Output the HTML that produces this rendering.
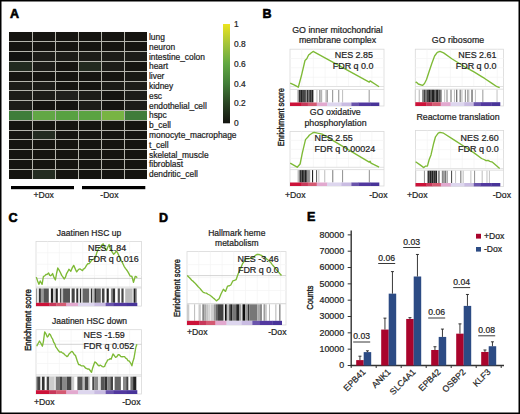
<!DOCTYPE html>
<html><head><meta charset="utf-8"><style>
html,body{margin:0;padding:0;background:#fff;}
#fig{position:relative;width:520px;height:414px;overflow:hidden;background:#fff;}
svg{position:absolute;left:0;top:0;}
text{font-family:"Liberation Sans",sans-serif;stroke:#1e1e1e;stroke-width:0.22px;}
</style></head><body><div id="fig">
<svg width="520" height="414" viewBox="0 0 520 414">
<rect x="0.75" y="0.75" width="518.5" height="412.5" fill="none" stroke="#000" stroke-width="1.5"/>
<text x="10" y="18" font-size="12.5" text-anchor="start" font-weight="bold" fill="#000" style="stroke:#000;stroke-width:0.6px">A</text>
<text x="262.5" y="17.8" font-size="12.5" text-anchor="start" font-weight="bold" fill="#000" style="stroke:#000;stroke-width:0.6px">B</text>
<text x="8.5" y="221.8" font-size="12.5" text-anchor="start" font-weight="bold" fill="#000" style="stroke:#000;stroke-width:0.6px">C</text>
<text x="159" y="221.6" font-size="12.5" text-anchor="start" font-weight="bold" fill="#000" style="stroke:#000;stroke-width:0.6px">D</text>
<text x="307" y="221.3" font-size="12.5" text-anchor="start" font-weight="bold" fill="#000" style="stroke:#000;stroke-width:0.6px">E</text>
<rect x="9" y="32" width="138" height="147.0" fill="#b4b4ac"/>
<g shape-rendering="crispEdges">
<rect x="9.00" y="32.00" width="22.50" height="9.30" fill="#151410"/>
<rect x="32.50" y="32.00" width="22.00" height="9.30" fill="#151410"/>
<rect x="55.50" y="32.00" width="22.00" height="9.30" fill="#151410"/>
<rect x="78.50" y="32.00" width="22.00" height="9.30" fill="#151410"/>
<rect x="101.50" y="32.00" width="22.00" height="9.30" fill="#151410"/>
<rect x="124.50" y="32.00" width="22.50" height="9.30" fill="#151410"/>
<rect x="9.00" y="42.30" width="22.50" height="8.80" fill="#151410"/>
<rect x="32.50" y="42.30" width="22.00" height="8.80" fill="#151410"/>
<rect x="55.50" y="42.30" width="22.00" height="8.80" fill="#151410"/>
<rect x="78.50" y="42.30" width="22.00" height="8.80" fill="#151410"/>
<rect x="101.50" y="42.30" width="22.00" height="8.80" fill="#151410"/>
<rect x="124.50" y="42.30" width="22.50" height="8.80" fill="#151410"/>
<rect x="9.00" y="52.10" width="22.50" height="8.80" fill="#121210"/>
<rect x="32.50" y="52.10" width="22.00" height="8.80" fill="#1c1c18"/>
<rect x="55.50" y="52.10" width="22.00" height="8.80" fill="#1c1c18"/>
<rect x="78.50" y="52.10" width="22.00" height="8.80" fill="#1c1c18"/>
<rect x="101.50" y="52.10" width="22.00" height="8.80" fill="#1c1c18"/>
<rect x="124.50" y="52.10" width="22.50" height="8.80" fill="#1c1c18"/>
<rect x="9.00" y="61.90" width="22.50" height="8.80" fill="#222a1f"/>
<rect x="32.50" y="61.90" width="22.00" height="8.80" fill="#1c1c18"/>
<rect x="55.50" y="61.90" width="22.00" height="8.80" fill="#151410"/>
<rect x="78.50" y="61.90" width="22.00" height="8.80" fill="#222a1f"/>
<rect x="101.50" y="61.90" width="22.00" height="8.80" fill="#1c1c18"/>
<rect x="124.50" y="61.90" width="22.50" height="8.80" fill="#151410"/>
<rect x="9.00" y="71.70" width="22.50" height="8.80" fill="#151410"/>
<rect x="32.50" y="71.70" width="22.00" height="8.80" fill="#151410"/>
<rect x="55.50" y="71.70" width="22.00" height="8.80" fill="#151410"/>
<rect x="78.50" y="71.70" width="22.00" height="8.80" fill="#151410"/>
<rect x="101.50" y="71.70" width="22.00" height="8.80" fill="#151410"/>
<rect x="124.50" y="71.70" width="22.50" height="8.80" fill="#181814"/>
<rect x="9.00" y="81.50" width="22.50" height="8.80" fill="#1c1c18"/>
<rect x="32.50" y="81.50" width="22.00" height="8.80" fill="#1c1c18"/>
<rect x="55.50" y="81.50" width="22.00" height="8.80" fill="#151410"/>
<rect x="78.50" y="81.50" width="22.00" height="8.80" fill="#151410"/>
<rect x="101.50" y="81.50" width="22.00" height="8.80" fill="#1a1a16"/>
<rect x="124.50" y="81.50" width="22.50" height="8.80" fill="#1c1c18"/>
<rect x="9.00" y="91.30" width="22.50" height="8.80" fill="#1c1c18"/>
<rect x="32.50" y="91.30" width="22.00" height="8.80" fill="#1c1c18"/>
<rect x="55.50" y="91.30" width="22.00" height="8.80" fill="#1f1f1c"/>
<rect x="78.50" y="91.30" width="22.00" height="8.80" fill="#1c1c18"/>
<rect x="101.50" y="91.30" width="22.00" height="8.80" fill="#151410"/>
<rect x="124.50" y="91.30" width="22.50" height="8.80" fill="#1c1c18"/>
<rect x="9.00" y="101.10" width="22.50" height="8.80" fill="#1c1c18"/>
<rect x="32.50" y="101.10" width="22.00" height="8.80" fill="#151410"/>
<rect x="55.50" y="101.10" width="22.00" height="8.80" fill="#151410"/>
<rect x="78.50" y="101.10" width="22.00" height="8.80" fill="#1c1c18"/>
<rect x="101.50" y="101.10" width="22.00" height="8.80" fill="#151410"/>
<rect x="124.50" y="101.10" width="22.50" height="8.80" fill="#1c1c18"/>
<rect x="9.00" y="110.90" width="22.50" height="8.80" fill="#3f7d3a"/>
<rect x="32.50" y="110.90" width="22.00" height="8.80" fill="#62a745"/>
<rect x="55.50" y="110.90" width="22.00" height="8.80" fill="#58a141"/>
<rect x="78.50" y="110.90" width="22.00" height="8.80" fill="#5aa342"/>
<rect x="101.50" y="110.90" width="22.00" height="8.80" fill="#78b443"/>
<rect x="124.50" y="110.90" width="22.50" height="8.80" fill="#407c3a"/>
<rect x="9.00" y="120.70" width="22.50" height="8.80" fill="#151410"/>
<rect x="32.50" y="120.70" width="22.00" height="8.80" fill="#151410"/>
<rect x="55.50" y="120.70" width="22.00" height="8.80" fill="#151410"/>
<rect x="78.50" y="120.70" width="22.00" height="8.80" fill="#151410"/>
<rect x="101.50" y="120.70" width="22.00" height="8.80" fill="#151410"/>
<rect x="124.50" y="120.70" width="22.50" height="8.80" fill="#151410"/>
<rect x="9.00" y="130.50" width="22.50" height="8.80" fill="#151410"/>
<rect x="32.50" y="130.50" width="22.00" height="8.80" fill="#242c21"/>
<rect x="55.50" y="130.50" width="22.00" height="8.80" fill="#151410"/>
<rect x="78.50" y="130.50" width="22.00" height="8.80" fill="#151410"/>
<rect x="101.50" y="130.50" width="22.00" height="8.80" fill="#151410"/>
<rect x="124.50" y="130.50" width="22.50" height="8.80" fill="#151410"/>
<rect x="9.00" y="140.30" width="22.50" height="8.80" fill="#151410"/>
<rect x="32.50" y="140.30" width="22.00" height="8.80" fill="#151410"/>
<rect x="55.50" y="140.30" width="22.00" height="8.80" fill="#151410"/>
<rect x="78.50" y="140.30" width="22.00" height="8.80" fill="#151410"/>
<rect x="101.50" y="140.30" width="22.00" height="8.80" fill="#151410"/>
<rect x="124.50" y="140.30" width="22.50" height="8.80" fill="#151410"/>
<rect x="9.00" y="150.10" width="22.50" height="8.80" fill="#151410"/>
<rect x="32.50" y="150.10" width="22.00" height="8.80" fill="#151410"/>
<rect x="55.50" y="150.10" width="22.00" height="8.80" fill="#151410"/>
<rect x="78.50" y="150.10" width="22.00" height="8.80" fill="#151410"/>
<rect x="101.50" y="150.10" width="22.00" height="8.80" fill="#151410"/>
<rect x="124.50" y="150.10" width="22.50" height="8.80" fill="#151410"/>
<rect x="9.00" y="159.90" width="22.50" height="8.80" fill="#151410"/>
<rect x="32.50" y="159.90" width="22.00" height="8.80" fill="#151410"/>
<rect x="55.50" y="159.90" width="22.00" height="8.80" fill="#151410"/>
<rect x="78.50" y="159.90" width="22.00" height="8.80" fill="#151410"/>
<rect x="101.50" y="159.90" width="22.00" height="8.80" fill="#151410"/>
<rect x="124.50" y="159.90" width="22.50" height="8.80" fill="#151410"/>
<rect x="9.00" y="169.70" width="22.50" height="9.30" fill="#151410"/>
<rect x="32.50" y="169.70" width="22.00" height="9.30" fill="#242c21"/>
<rect x="55.50" y="169.70" width="22.00" height="9.30" fill="#151410"/>
<rect x="78.50" y="169.70" width="22.00" height="9.30" fill="#151410"/>
<rect x="101.50" y="169.70" width="22.00" height="9.30" fill="#151410"/>
<rect x="124.50" y="169.70" width="22.50" height="9.30" fill="#151410"/>
</g>
<text x="149" y="40.0" font-size="8.4" text-anchor="start" font-weight="normal" fill="#1e1e1e" >lung</text>
<text x="149" y="49.8" font-size="8.4" text-anchor="start" font-weight="normal" fill="#1e1e1e" >neuron</text>
<text x="149" y="59.6" font-size="8.4" text-anchor="start" font-weight="normal" fill="#1e1e1e" >intestine_colon</text>
<text x="149" y="69.4" font-size="8.4" text-anchor="start" font-weight="normal" fill="#1e1e1e" >heart</text>
<text x="149" y="79.2" font-size="8.4" text-anchor="start" font-weight="normal" fill="#1e1e1e" >liver</text>
<text x="149" y="89.0" font-size="8.4" text-anchor="start" font-weight="normal" fill="#1e1e1e" >kidney</text>
<text x="149" y="98.80000000000001" font-size="8.4" text-anchor="start" font-weight="normal" fill="#1e1e1e" >esc</text>
<text x="149" y="108.60000000000001" font-size="8.4" text-anchor="start" font-weight="normal" fill="#1e1e1e" >endothelial_cell</text>
<text x="149" y="118.4" font-size="8.4" text-anchor="start" font-weight="normal" fill="#1e1e1e" >hspc</text>
<text x="149" y="128.2" font-size="8.4" text-anchor="start" font-weight="normal" fill="#1e1e1e" >b_cell</text>
<text x="149" y="138.0" font-size="8.4" text-anchor="start" font-weight="normal" fill="#1e1e1e" >monocyte_macrophage</text>
<text x="149" y="147.8" font-size="8.4" text-anchor="start" font-weight="normal" fill="#1e1e1e" >t_cell</text>
<text x="149" y="157.60000000000002" font-size="8.4" text-anchor="start" font-weight="normal" fill="#1e1e1e" >skeletal_muscle</text>
<text x="149" y="167.4" font-size="8.4" text-anchor="start" font-weight="normal" fill="#1e1e1e" >fibroblast</text>
<text x="149" y="177.20000000000002" font-size="8.4" text-anchor="start" font-weight="normal" fill="#1e1e1e" >dendritic_cell</text>
<rect x="11" y="186" width="63" height="3.2" fill="#000"/>
<rect x="82" y="186" width="63.3" height="3.2" fill="#000"/>
<text x="33.5" y="197.5" font-size="8.6" text-anchor="start" font-weight="normal" fill="#1e1e1e" >+Dox</text>
<text x="100.3" y="197.5" font-size="8.6" text-anchor="start" font-weight="normal" fill="#1e1e1e" >-Dox</text>
<defs><linearGradient id="cb" x1="0" y1="1" x2="0" y2="0"><stop offset="0" stop-color="#141410"/><stop offset="0.2" stop-color="#2a4424"/><stop offset="0.4" stop-color="#427e38"/><stop offset="0.6" stop-color="#62a842"/><stop offset="0.8" stop-color="#a4c43a"/><stop offset="1" stop-color="#ece41e"/></linearGradient><filter id="hb" x="-5%" y="0" width="110%" height="100%"><feGaussianBlur stdDeviation="0.45 0"/></filter></defs>
<rect x="223" y="24" width="7" height="99.3" fill="url(#cb)"/>
<text x="234" y="126.3" font-size="8.4" text-anchor="start" font-weight="normal" fill="#1e1e1e" >0</text>
<text x="234" y="106.44" font-size="8.4" text-anchor="start" font-weight="normal" fill="#1e1e1e" >0.2</text>
<text x="234" y="86.58" font-size="8.4" text-anchor="start" font-weight="normal" fill="#1e1e1e" >0.4</text>
<text x="234" y="66.72" font-size="8.4" text-anchor="start" font-weight="normal" fill="#1e1e1e" >0.6</text>
<text x="234" y="46.86" font-size="8.4" text-anchor="start" font-weight="normal" fill="#1e1e1e" >0.8</text>
<text x="234" y="27.0" font-size="8.4" text-anchor="start" font-weight="normal" fill="#1e1e1e" >1</text>
<rect x="290" y="49.2" width="94" height="56.8" fill="#fff" stroke="#d9d9d9" stroke-width="0.8"/>
<line x1="301.7" y1="49.2" x2="301.7" y2="86.5" stroke="#f4f4f4" stroke-width="0.7"/>
<line x1="313.4" y1="49.2" x2="313.4" y2="86.5" stroke="#f4f4f4" stroke-width="0.7"/>
<line x1="325.1" y1="49.2" x2="325.1" y2="86.5" stroke="#f4f4f4" stroke-width="0.7"/>
<line x1="336.8" y1="49.2" x2="336.8" y2="86.5" stroke="#f4f4f4" stroke-width="0.7"/>
<line x1="348.5" y1="49.2" x2="348.5" y2="86.5" stroke="#f4f4f4" stroke-width="0.7"/>
<line x1="360.2" y1="49.2" x2="360.2" y2="86.5" stroke="#f4f4f4" stroke-width="0.7"/>
<line x1="371.9" y1="49.2" x2="371.9" y2="86.5" stroke="#f4f4f4" stroke-width="0.7"/>
<line x1="290" y1="58.5" x2="384" y2="58.5" stroke="#f4f4f4" stroke-width="0.7"/>
<line x1="290" y1="67.8" x2="384" y2="67.8" stroke="#f4f4f4" stroke-width="0.7"/>
<line x1="290" y1="77.2" x2="384" y2="77.2" stroke="#f4f4f4" stroke-width="0.7"/>
<line x1="290" y1="86.5" x2="384" y2="86.5" stroke="#d9d9d9" stroke-width="0.8"/>
<line x1="290" y1="89.5" x2="384" y2="89.5" stroke="#d9d9d9" stroke-width="0.8"/>
<g filter="url(#hb)">
<rect x="297.20" y="90.0" width="1.2" height="12.5" fill="#bbb"/>
<rect x="298.60" y="90.0" width="2.2" height="12.5" fill="#333"/>
<rect x="300.80" y="90.0" width="2" height="12.5" fill="#222"/>
<rect x="302.80" y="90.0" width="1.4" height="12.5" fill="#444"/>
<rect x="304.20" y="90.0" width="1.6" height="12.5" fill="#222"/>
<rect x="305.80" y="90.0" width="1.0" height="12.5" fill="#999"/>
<rect x="306.80" y="90.0" width="1.6" height="12.5" fill="#333"/>
<rect x="308.40" y="90.0" width="1.6" height="12.5" fill="#555"/>
<rect x="310.00" y="90.0" width="1.6" height="12.5" fill="#333"/>
<rect x="311.60" y="90.0" width="1.8" height="12.5" fill="#222"/>
<rect x="316.30" y="90.0" width="1.2" height="12.5" fill="#c8c8c8"/>
<rect x="319.10" y="90.0" width="1.1" height="12.5" fill="#999"/>
<rect x="320.20" y="90.0" width="2.0" height="12.5" fill="#b4b4b4"/>
<rect x="325.40" y="90.0" width="1.2" height="12.5" fill="#bbb"/>
<rect x="326.60" y="90.0" width="1.3" height="12.5" fill="#999"/>
<rect x="332.00" y="90.0" width="1.2" height="12.5" fill="#a0a0a0"/>
<rect x="338.10" y="90.0" width="1.2" height="12.5" fill="#a0a0a0"/>
<rect x="342.00" y="90.0" width="1.1" height="12.5" fill="#c4c4c4"/>
<rect x="368.60" y="90.0" width="1.2" height="12.5" fill="#aaa"/>
</g>
<rect x="290.00" y="102.5" width="11.87" height="3.5" fill="#cc1239"/>
<rect x="301.57" y="102.5" width="6.53" height="3.5" fill="#c8385a"/>
<rect x="307.80" y="102.5" width="9.20" height="3.5" fill="#d45a72"/>
<rect x="316.70" y="102.5" width="10.71" height="3.5" fill="#e2a9cf"/>
<rect x="327.11" y="102.5" width="14.54" height="3.5" fill="#ddd6ee"/>
<rect x="341.35" y="102.5" width="10.36" height="3.5" fill="#c9bce2"/>
<rect x="351.41" y="102.5" width="7.42" height="3.5" fill="#6a54ac"/>
<rect x="358.53" y="102.5" width="11.87" height="3.5" fill="#52389f"/>
<rect x="370.10" y="102.5" width="9.20" height="3.5" fill="#483499"/>
<polyline points="290.20,83.10 294.10,84.90 298.30,87.20 301.40,75.80 305.00,60.50 306.80,58.70 308.60,55.00 310.40,53.60 313.10,51.40 369.20,82.20 370.10,80.90 379.10,86.70" fill="none" stroke="#7eba36" stroke-width="1.35" stroke-linejoin="round"/>
<text x="337.5" y="33.2" font-size="8.8" text-anchor="middle" font-weight="normal" fill="#1e1e1e" >GO inner mitochondrial</text>
<text x="337.5" y="43" font-size="8.8" text-anchor="middle" font-weight="normal" fill="#1e1e1e" >membrane complex</text>
<text x="373" y="58.3" font-size="8.95" text-anchor="end" font-weight="normal" fill="#1e1e1e" >NES 2.85</text>
<text x="373.5" y="68.8" font-size="8.95" text-anchor="end" font-weight="normal" fill="#1e1e1e" >FDR q 0.0</text>
<rect x="415.3" y="49.2" width="88.30000000000001" height="56.8" fill="#fff" stroke="#d9d9d9" stroke-width="0.8"/>
<line x1="427.0" y1="49.2" x2="427.0" y2="86.5" stroke="#f4f4f4" stroke-width="0.7"/>
<line x1="438.7" y1="49.2" x2="438.7" y2="86.5" stroke="#f4f4f4" stroke-width="0.7"/>
<line x1="450.4" y1="49.2" x2="450.4" y2="86.5" stroke="#f4f4f4" stroke-width="0.7"/>
<line x1="462.1" y1="49.2" x2="462.1" y2="86.5" stroke="#f4f4f4" stroke-width="0.7"/>
<line x1="473.8" y1="49.2" x2="473.8" y2="86.5" stroke="#f4f4f4" stroke-width="0.7"/>
<line x1="485.5" y1="49.2" x2="485.5" y2="86.5" stroke="#f4f4f4" stroke-width="0.7"/>
<line x1="497.2" y1="49.2" x2="497.2" y2="86.5" stroke="#f4f4f4" stroke-width="0.7"/>
<line x1="415.3" y1="58.5" x2="503.6" y2="58.5" stroke="#f4f4f4" stroke-width="0.7"/>
<line x1="415.3" y1="67.8" x2="503.6" y2="67.8" stroke="#f4f4f4" stroke-width="0.7"/>
<line x1="415.3" y1="77.2" x2="503.6" y2="77.2" stroke="#f4f4f4" stroke-width="0.7"/>
<line x1="415.3" y1="86.5" x2="503.6" y2="86.5" stroke="#d9d9d9" stroke-width="0.8"/>
<line x1="415.3" y1="89.2" x2="503.6" y2="89.2" stroke="#d9d9d9" stroke-width="0.8"/>
<g filter="url(#hb)">
<rect x="414.80" y="89.7" width="1" height="12.5" fill="#ccc"/>
<rect x="418.70" y="89.7" width="1.1" height="12.5" fill="#bbb"/>
<rect x="422.20" y="89.7" width="1.5" height="12.5" fill="#777"/>
<rect x="423.70" y="89.7" width="1.5" height="12.5" fill="#444"/>
<rect x="425.20" y="89.7" width="1.5" height="12.5" fill="#666"/>
<rect x="426.70" y="89.7" width="1.5" height="12.5" fill="#444"/>
<rect x="428.20" y="89.7" width="2" height="12.5" fill="#222"/>
<rect x="430.20" y="89.7" width="1.5" height="12.5" fill="#333"/>
<rect x="431.70" y="89.7" width="2.3" height="12.5" fill="#222"/>
<rect x="434.00" y="89.7" width="1.5" height="12.5" fill="#555"/>
<rect x="435.50" y="89.7" width="1.5" height="12.5" fill="#333"/>
<rect x="437.00" y="89.7" width="1.5" height="12.5" fill="#222"/>
<rect x="438.50" y="89.7" width="1.5" height="12.5" fill="#555"/>
<rect x="440.00" y="89.7" width="1.7" height="12.5" fill="#777"/>
<rect x="444.10" y="89.7" width="1.1" height="12.5" fill="#c8c8c8"/>
<rect x="446.40" y="89.7" width="1.2" height="12.5" fill="#999"/>
<rect x="450.40" y="89.7" width="1.2" height="12.5" fill="#888"/>
<rect x="453.90" y="89.7" width="1.1" height="12.5" fill="#c0c0c0"/>
<rect x="456.10" y="89.7" width="1.2" height="12.5" fill="#666"/>
<rect x="459.10" y="89.7" width="1.1" height="12.5" fill="#c0c0c0"/>
<rect x="461.40" y="89.7" width="1.1" height="12.5" fill="#bbb"/>
<rect x="464.80" y="89.7" width="1.2" height="12.5" fill="#999"/>
<rect x="468.30" y="89.7" width="1.1" height="12.5" fill="#c0c0c0"/>
<rect x="471.20" y="89.7" width="1.2" height="12.5" fill="#999"/>
<rect x="460.00" y="89.7" width="1" height="12.5" fill="#999"/>
<rect x="467.20" y="89.7" width="1.1" height="12.5" fill="#999"/>
<rect x="471.60" y="89.7" width="1.2" height="12.5" fill="#888"/>
<rect x="474.90" y="89.7" width="1.1" height="12.5" fill="#c8c8c8"/>
<rect x="482.00" y="89.7" width="1.5" height="12.5" fill="#bbb"/>
<rect x="496.50" y="89.7" width="1.1" height="12.5" fill="#c8c8c8"/>
</g>
<rect x="415.30" y="102.2" width="11.31" height="3.799999999999997" fill="#cc1239"/>
<rect x="426.31" y="102.2" width="6.23" height="3.799999999999997" fill="#c8385a"/>
<rect x="432.24" y="102.2" width="8.77" height="3.799999999999997" fill="#d45a72"/>
<rect x="440.71" y="102.2" width="10.21" height="3.799999999999997" fill="#e2a9cf"/>
<rect x="450.62" y="102.2" width="13.85" height="3.799999999999997" fill="#ddd6ee"/>
<rect x="464.17" y="102.2" width="9.87" height="3.799999999999997" fill="#c9bce2"/>
<rect x="473.74" y="102.2" width="7.08" height="3.799999999999997" fill="#6a54ac"/>
<rect x="480.52" y="102.2" width="11.31" height="3.799999999999997" fill="#52389f"/>
<rect x="491.53" y="102.2" width="8.77" height="3.799999999999997" fill="#483499"/>
<polyline points="415.50,82.60 416.50,82.20 418.30,84.00 422.50,85.40 424.50,83.50 426.50,79.50 429.20,71.30 431.90,63.20 434.60,56.00 437.30,52.30 440.00,51.40 443.60,52.90 451.80,58.70 466.20,67.70 474.40,72.20 482.50,77.10 484.30,78.20 491.60,83.10 497.00,86.70 499.70,87.60" fill="none" stroke="#7eba36" stroke-width="1.35" stroke-linejoin="round"/>
<text x="458" y="43.1" font-size="8.8" text-anchor="middle" font-weight="normal" fill="#1e1e1e" >GO ribosome</text>
<text x="496.5" y="58.1" font-size="8.95" text-anchor="end" font-weight="normal" fill="#1e1e1e" >NES 2.61</text>
<text x="496.5" y="68.5" font-size="8.95" text-anchor="end" font-weight="normal" fill="#1e1e1e" >FDR q 0.0</text>
<rect x="290" y="131.5" width="94" height="54.5" fill="#fff" stroke="#d9d9d9" stroke-width="0.8"/>
<line x1="301.7" y1="131.5" x2="301.7" y2="167.3" stroke="#f4f4f4" stroke-width="0.7"/>
<line x1="313.4" y1="131.5" x2="313.4" y2="167.3" stroke="#f4f4f4" stroke-width="0.7"/>
<line x1="325.1" y1="131.5" x2="325.1" y2="167.3" stroke="#f4f4f4" stroke-width="0.7"/>
<line x1="336.8" y1="131.5" x2="336.8" y2="167.3" stroke="#f4f4f4" stroke-width="0.7"/>
<line x1="348.5" y1="131.5" x2="348.5" y2="167.3" stroke="#f4f4f4" stroke-width="0.7"/>
<line x1="360.2" y1="131.5" x2="360.2" y2="167.3" stroke="#f4f4f4" stroke-width="0.7"/>
<line x1="371.9" y1="131.5" x2="371.9" y2="167.3" stroke="#f4f4f4" stroke-width="0.7"/>
<line x1="290" y1="140.4" x2="384" y2="140.4" stroke="#f4f4f4" stroke-width="0.7"/>
<line x1="290" y1="149.4" x2="384" y2="149.4" stroke="#f4f4f4" stroke-width="0.7"/>
<line x1="290" y1="158.4" x2="384" y2="158.4" stroke="#f4f4f4" stroke-width="0.7"/>
<line x1="290" y1="167.3" x2="384" y2="167.3" stroke="#d9d9d9" stroke-width="0.8"/>
<line x1="290" y1="169.6" x2="384" y2="169.6" stroke="#d9d9d9" stroke-width="0.8"/>
<g filter="url(#hb)">
<rect x="297.40" y="170.1" width="1.2" height="12.400000000000006" fill="#ccc"/>
<rect x="298.60" y="170.1" width="1.4" height="12.400000000000006" fill="#888"/>
<rect x="300.00" y="170.1" width="1.6" height="12.400000000000006" fill="#333"/>
<rect x="301.60" y="170.1" width="1.4" height="12.400000000000006" fill="#222"/>
<rect x="303.00" y="170.1" width="1.4" height="12.400000000000006" fill="#444"/>
<rect x="304.40" y="170.1" width="1.6" height="12.400000000000006" fill="#222"/>
<rect x="306.00" y="170.1" width="1.4" height="12.400000000000006" fill="#555"/>
<rect x="307.40" y="170.1" width="1.4" height="12.400000000000006" fill="#777"/>
<rect x="308.80" y="170.1" width="1.4" height="12.400000000000006" fill="#999"/>
<rect x="312.00" y="170.1" width="1.1" height="12.400000000000006" fill="#222"/>
<rect x="316.00" y="170.1" width="1.1" height="12.400000000000006" fill="#666"/>
<rect x="318.30" y="170.1" width="1.1" height="12.400000000000006" fill="#c8c8c8"/>
<rect x="324.10" y="170.1" width="1.2" height="12.400000000000006" fill="#c8c8c8"/>
<rect x="332.20" y="170.1" width="1.1" height="12.400000000000006" fill="#888"/>
<rect x="342.00" y="170.1" width="1.1" height="12.400000000000006" fill="#999"/>
<rect x="368.80" y="170.1" width="1.1" height="12.400000000000006" fill="#999"/>
</g>
<rect x="290.00" y="182.5" width="11.87" height="3.5" fill="#cc1239"/>
<rect x="301.57" y="182.5" width="6.53" height="3.5" fill="#c8385a"/>
<rect x="307.80" y="182.5" width="9.20" height="3.5" fill="#d45a72"/>
<rect x="316.70" y="182.5" width="10.71" height="3.5" fill="#e2a9cf"/>
<rect x="327.11" y="182.5" width="14.54" height="3.5" fill="#ddd6ee"/>
<rect x="341.35" y="182.5" width="10.36" height="3.5" fill="#c9bce2"/>
<rect x="351.41" y="182.5" width="7.42" height="3.5" fill="#6a54ac"/>
<rect x="358.53" y="182.5" width="11.87" height="3.5" fill="#52389f"/>
<rect x="370.10" y="182.5" width="9.20" height="3.5" fill="#483499"/>
<polyline points="290.20,163.10 294.10,165.40 297.20,167.20 300.10,164.00 302.30,153.10 305.50,139.60 307.70,137.20 309.50,135.00 312.20,133.20 314.00,132.30 317.60,133.20 322.20,134.10 369.20,162.20 370.10,161.30 371.00,163.10 379.10,167.20" fill="none" stroke="#7eba36" stroke-width="1.35" stroke-linejoin="round"/>
<text x="335.3" y="115.3" font-size="8.8" text-anchor="middle" font-weight="normal" fill="#1e1e1e" >GO oxidative</text>
<text x="335.5" y="125.6" font-size="8.8" text-anchor="middle" font-weight="normal" fill="#1e1e1e" >phosphorylation</text>
<text x="314.5" y="141" font-size="8.95" text-anchor="start" font-weight="normal" fill="#1e1e1e" >NES 2.55</text>
<text x="314.5" y="151.5" font-size="8.95" text-anchor="start" font-weight="normal" fill="#1e1e1e" >FDR q 0.00024</text>
<text x="285" y="198.3" font-size="8.7" text-anchor="start" font-weight="normal" fill="#1e1e1e" >+Dox</text>
<text x="387.5" y="198.3" font-size="8.7" text-anchor="end" font-weight="normal" fill="#1e1e1e" >-Dox</text>
<rect x="415.5" y="130.5" width="88.10000000000002" height="55.900000000000006" fill="#fff" stroke="#d9d9d9" stroke-width="0.8"/>
<line x1="427.2" y1="130.5" x2="427.2" y2="168.6" stroke="#f4f4f4" stroke-width="0.7"/>
<line x1="438.9" y1="130.5" x2="438.9" y2="168.6" stroke="#f4f4f4" stroke-width="0.7"/>
<line x1="450.6" y1="130.5" x2="450.6" y2="168.6" stroke="#f4f4f4" stroke-width="0.7"/>
<line x1="462.3" y1="130.5" x2="462.3" y2="168.6" stroke="#f4f4f4" stroke-width="0.7"/>
<line x1="474.0" y1="130.5" x2="474.0" y2="168.6" stroke="#f4f4f4" stroke-width="0.7"/>
<line x1="485.7" y1="130.5" x2="485.7" y2="168.6" stroke="#f4f4f4" stroke-width="0.7"/>
<line x1="497.4" y1="130.5" x2="497.4" y2="168.6" stroke="#f4f4f4" stroke-width="0.7"/>
<line x1="415.5" y1="140.0" x2="503.6" y2="140.0" stroke="#f4f4f4" stroke-width="0.7"/>
<line x1="415.5" y1="149.6" x2="503.6" y2="149.6" stroke="#f4f4f4" stroke-width="0.7"/>
<line x1="415.5" y1="159.1" x2="503.6" y2="159.1" stroke="#f4f4f4" stroke-width="0.7"/>
<line x1="415.5" y1="168.6" x2="503.6" y2="168.6" stroke="#d9d9d9" stroke-width="0.8"/>
<line x1="415.5" y1="170.2" x2="503.6" y2="170.2" stroke="#d9d9d9" stroke-width="0.8"/>
<g filter="url(#hb)">
<rect x="415.20" y="170.7" width="1" height="12.300000000000011" fill="#ccc"/>
<rect x="423.90" y="170.7" width="1.1" height="12.300000000000011" fill="#999"/>
<rect x="427.50" y="170.7" width="2" height="12.300000000000011" fill="#333"/>
<rect x="429.50" y="170.7" width="2" height="12.300000000000011" fill="#222"/>
<rect x="431.50" y="170.7" width="2" height="12.300000000000011" fill="#222"/>
<rect x="433.50" y="170.7" width="1.8" height="12.300000000000011" fill="#333"/>
<rect x="435.30" y="170.7" width="1.8" height="12.300000000000011" fill="#222"/>
<rect x="438.40" y="170.7" width="1.1" height="12.300000000000011" fill="#444"/>
<rect x="441.80" y="170.7" width="1.3" height="12.300000000000011" fill="#888"/>
<rect x="443.40" y="170.7" width="1.2" height="12.300000000000011" fill="#666"/>
<rect x="445.00" y="170.7" width="1.2" height="12.300000000000011" fill="#777"/>
<rect x="446.60" y="170.7" width="1.2" height="12.300000000000011" fill="#999"/>
<rect x="451.00" y="170.7" width="1.1" height="12.300000000000011" fill="#555"/>
<rect x="455.00" y="170.7" width="1.1" height="12.300000000000011" fill="#c8c8c8"/>
<rect x="460.20" y="170.7" width="1.2" height="12.300000000000011" fill="#888"/>
<rect x="462.60" y="170.7" width="1.1" height="12.300000000000011" fill="#c0c0c0"/>
<rect x="470.30" y="170.7" width="1.1" height="12.300000000000011" fill="#c8c8c8"/>
<rect x="474.00" y="170.7" width="1.1" height="12.300000000000011" fill="#999"/>
<rect x="481.60" y="170.7" width="1.2" height="12.300000000000011" fill="#c8c8c8"/>
<rect x="486.40" y="170.7" width="1.1" height="12.300000000000011" fill="#c8c8c8"/>
<rect x="488.90" y="170.7" width="1.1" height="12.300000000000011" fill="#c8c8c8"/>
</g>
<rect x="415.50" y="183" width="11.29" height="3.4000000000000057" fill="#cc1239"/>
<rect x="426.49" y="183" width="6.22" height="3.4000000000000057" fill="#c8385a"/>
<rect x="432.40" y="183" width="8.75" height="3.4000000000000057" fill="#d45a72"/>
<rect x="440.85" y="183" width="10.19" height="3.4000000000000057" fill="#e2a9cf"/>
<rect x="450.74" y="183" width="13.82" height="3.4000000000000057" fill="#ddd6ee"/>
<rect x="464.26" y="183" width="9.85" height="3.4000000000000057" fill="#c9bce2"/>
<rect x="473.81" y="183" width="7.06" height="3.4000000000000057" fill="#6a54ac"/>
<rect x="480.56" y="183" width="11.29" height="3.4000000000000057" fill="#52389f"/>
<rect x="491.55" y="183" width="8.75" height="3.4000000000000057" fill="#483499"/>
<polyline points="415.60,161.80 420.10,164.90 423.80,167.60 425.60,166.10 427.40,166.10 429.20,159.50 431.00,154.90 433.70,143.20 435.50,136.80 438.20,133.20 440.00,132.30 443.60,133.20 453.60,139.60 466.20,147.70 474.40,153.10 481.60,158.50 484.00,159.50 486.10,160.70 488.00,160.40 489.80,161.30 492.50,162.20 499.70,168.50" fill="none" stroke="#7eba36" stroke-width="1.35" stroke-linejoin="round"/>
<text x="458" y="119.8" font-size="8.8" text-anchor="middle" font-weight="normal" fill="#1e1e1e" >Reactome translation</text>
<text x="498.8" y="141" font-size="8.95" text-anchor="end" font-weight="normal" fill="#1e1e1e" >NES 2.60</text>
<text x="498.8" y="151.9" font-size="8.95" text-anchor="end" font-weight="normal" fill="#1e1e1e" >FDR q 0.0</text>
<text x="407" y="197.7" font-size="8.7" text-anchor="start" font-weight="normal" fill="#1e1e1e" >+Dox</text>
<text x="511" y="197.7" font-size="8.7" text-anchor="end" font-weight="normal" fill="#1e1e1e" >-Dox</text>
<text transform="translate(284.4,117.2) rotate(-90) scale(0.82,1)" x="0" y="0" font-size="9.1" style="stroke-width:0.4px" text-anchor="middle" fill="#1e1e1e">Enrichment score</text>
<rect x="36" y="241.4" width="105.5" height="64.70000000000002" fill="#fff" stroke="#d9d9d9" stroke-width="0.8"/>
<line x1="47.7" y1="241.4" x2="47.7" y2="287" stroke="#f4f4f4" stroke-width="0.7"/>
<line x1="59.4" y1="241.4" x2="59.4" y2="287" stroke="#f4f4f4" stroke-width="0.7"/>
<line x1="71.1" y1="241.4" x2="71.1" y2="287" stroke="#f4f4f4" stroke-width="0.7"/>
<line x1="82.8" y1="241.4" x2="82.8" y2="287" stroke="#f4f4f4" stroke-width="0.7"/>
<line x1="94.5" y1="241.4" x2="94.5" y2="287" stroke="#f4f4f4" stroke-width="0.7"/>
<line x1="106.2" y1="241.4" x2="106.2" y2="287" stroke="#f4f4f4" stroke-width="0.7"/>
<line x1="117.9" y1="241.4" x2="117.9" y2="287" stroke="#f4f4f4" stroke-width="0.7"/>
<line x1="129.6" y1="241.4" x2="129.6" y2="287" stroke="#f4f4f4" stroke-width="0.7"/>
<line x1="36" y1="252.8" x2="141.5" y2="252.8" stroke="#f4f4f4" stroke-width="0.7"/>
<line x1="36" y1="264.2" x2="141.5" y2="264.2" stroke="#f4f4f4" stroke-width="0.7"/>
<line x1="36" y1="275.6" x2="141.5" y2="275.6" stroke="#f4f4f4" stroke-width="0.7"/>
<line x1="36" y1="287" x2="141.5" y2="287" stroke="#d9d9d9" stroke-width="0.8"/>
<line x1="36" y1="288" x2="141.5" y2="288" stroke="#d9d9d9" stroke-width="0.8"/>
<line x1="36" y1="278.4" x2="141.5" y2="278.4" stroke="#c8c8c8" stroke-width="0.8"/>
<g filter="url(#hb)">
<rect x="36.10" y="288.5" width="1.1000000000000014" height="14.300000000000011" fill="#888"/>
<rect x="38.80" y="288.5" width="2.1000000000000014" height="14.300000000000011" fill="#333"/>
<rect x="40.90" y="288.5" width="2.6000000000000014" height="14.300000000000011" fill="#999"/>
<rect x="43.50" y="288.5" width="5.299999999999997" height="14.300000000000011" fill="#555"/>
<rect x="50.90" y="288.5" width="2.1000000000000014" height="14.300000000000011" fill="#222"/>
<rect x="53.00" y="288.5" width="2.700000000000003" height="14.300000000000011" fill="#ccc"/>
<rect x="55.70" y="288.5" width="2.0999999999999943" height="14.300000000000011" fill="#222"/>
<rect x="59.90" y="288.5" width="1.6000000000000014" height="14.300000000000011" fill="#444"/>
<rect x="61.50" y="288.5" width="1.6000000000000014" height="14.300000000000011" fill="#bbb"/>
<rect x="63.10" y="288.5" width="6.899999999999999" height="14.300000000000011" fill="#555"/>
<rect x="71.60" y="288.5" width="3.1000000000000085" height="14.300000000000011" fill="#444"/>
<rect x="76.30" y="288.5" width="2.1000000000000085" height="14.300000000000011" fill="#333"/>
<rect x="78.40" y="288.5" width="1.5999999999999943" height="14.300000000000011" fill="#e0e0e0"/>
<rect x="80.00" y="288.5" width="1.0999999999999943" height="14.300000000000011" fill="#222"/>
<rect x="81.10" y="288.5" width="1.6000000000000085" height="14.300000000000011" fill="#ccc"/>
<rect x="82.70" y="288.5" width="6.5" height="14.300000000000011" fill="#666"/>
<rect x="90.80" y="288.5" width="1.5" height="14.300000000000011" fill="#333"/>
<rect x="92.30" y="288.5" width="2.200000000000003" height="14.300000000000011" fill="#bbb"/>
<rect x="94.50" y="288.5" width="1.5" height="14.300000000000011" fill="#333"/>
<rect x="96.00" y="288.5" width="4.799999999999997" height="14.300000000000011" fill="#666"/>
<rect x="101.90" y="288.5" width="2.5999999999999943" height="14.300000000000011" fill="#444"/>
<rect x="106.60" y="288.5" width="2.200000000000003" height="14.300000000000011" fill="#222"/>
<rect x="110.90" y="288.5" width="1.5999999999999943" height="14.300000000000011" fill="#888"/>
<rect x="112.50" y="288.5" width="2.5999999999999943" height="14.300000000000011" fill="#333"/>
<rect x="117.70" y="288.5" width="2.200000000000003" height="14.300000000000011" fill="#555"/>
<rect x="121.40" y="288.5" width="2.1999999999999886" height="14.300000000000011" fill="#444"/>
<rect x="125.20" y="288.5" width="7.3999999999999915" height="14.300000000000011" fill="#bbb"/>
<rect x="133.60" y="288.5" width="2.0999999999999943" height="14.300000000000011" fill="#222"/>
<rect x="135.70" y="288.5" width="1.1000000000000227" height="14.300000000000011" fill="#888"/>
</g>
<rect x="36.00" y="302.8" width="13.43" height="3.3000000000000114" fill="#cc1239"/>
<rect x="49.13" y="302.8" width="7.37" height="3.3000000000000114" fill="#c8385a"/>
<rect x="56.20" y="302.8" width="10.40" height="3.3000000000000114" fill="#d45a72"/>
<rect x="66.30" y="302.8" width="12.12" height="3.3000000000000114" fill="#e2a9cf"/>
<rect x="78.12" y="302.8" width="16.46" height="3.3000000000000114" fill="#ddd6ee"/>
<rect x="94.28" y="302.8" width="11.71" height="3.3000000000000114" fill="#c9bce2"/>
<rect x="105.69" y="302.8" width="8.38" height="3.3000000000000114" fill="#6a54ac"/>
<rect x="113.77" y="302.8" width="13.43" height="3.3000000000000114" fill="#52389f"/>
<rect x="126.90" y="302.8" width="10.40" height="3.3000000000000114" fill="#483499"/>
<polyline points="36.30,277.10 37.60,280.90 38.90,284.30 40.20,281.00 42.10,284.30 43.40,276.50 44.70,275.89 46.00,274.50 47.30,274.22 48.60,273.00 49.60,275.11 50.60,275.80 51.60,275.03 52.60,273.50 54.00,277.43 55.40,280.00 56.60,273.25 57.80,268.00 59.10,270.19 60.40,272.50 61.70,275.38 63.00,277.07 64.30,279.00 65.45,277.22 66.60,273.53 67.75,271.68 68.90,269.30 70.80,271.20 72.25,267.89 73.70,265.40 74.70,267.64 75.70,269.85 76.70,271.90 78.60,269.30 79.90,268.95 81.20,269.71 82.50,270.60 83.50,268.95 84.50,268.67 85.50,267.13 86.50,265.40 87.80,263.76 89.10,263.68 90.40,262.10 91.70,260.22 93.00,259.50 94.20,258.74 95.40,257.60 96.70,253.05 98.00,249.70 99.06,247.74 100.12,247.97 101.18,245.76 102.24,244.60 103.30,243.90 104.37,246.84 105.43,248.83 106.50,250.40 107.80,247.11 109.10,244.50 110.10,248.19 111.10,250.40 112.40,252.41 113.70,254.30 115.00,252.93 116.30,251.00 117.60,252.83 118.90,255.60 120.20,258.91 121.50,261.11 122.80,263.40 124.10,266.35 125.40,268.43 126.70,270.00 127.80,271.61 128.90,273.64 130.00,275.80 131.90,276.50 133.50,282.30 135.20,276.50 136.20,276.62 137.20,277.80" fill="none" stroke="#7eba36" stroke-width="1.35" stroke-linejoin="round"/>
<text x="89" y="236" font-size="8.5" text-anchor="middle" font-weight="normal" fill="#1e1e1e" >Jaatinen HSC up</text>
<text x="88" y="251" font-size="8.95" text-anchor="start" font-weight="normal" fill="#1e1e1e" >NES 1.84</text>
<text x="88" y="262" font-size="8.95" text-anchor="start" font-weight="normal" fill="#1e1e1e" >FDR q 0.016</text>
<rect x="36" y="329.7" width="105.5" height="64.30000000000001" fill="#fff" stroke="#d9d9d9" stroke-width="0.8"/>
<line x1="47.7" y1="329.7" x2="47.7" y2="374.8" stroke="#f4f4f4" stroke-width="0.7"/>
<line x1="59.4" y1="329.7" x2="59.4" y2="374.8" stroke="#f4f4f4" stroke-width="0.7"/>
<line x1="71.1" y1="329.7" x2="71.1" y2="374.8" stroke="#f4f4f4" stroke-width="0.7"/>
<line x1="82.8" y1="329.7" x2="82.8" y2="374.8" stroke="#f4f4f4" stroke-width="0.7"/>
<line x1="94.5" y1="329.7" x2="94.5" y2="374.8" stroke="#f4f4f4" stroke-width="0.7"/>
<line x1="106.2" y1="329.7" x2="106.2" y2="374.8" stroke="#f4f4f4" stroke-width="0.7"/>
<line x1="117.9" y1="329.7" x2="117.9" y2="374.8" stroke="#f4f4f4" stroke-width="0.7"/>
<line x1="129.6" y1="329.7" x2="129.6" y2="374.8" stroke="#f4f4f4" stroke-width="0.7"/>
<line x1="36" y1="341.0" x2="141.5" y2="341.0" stroke="#f4f4f4" stroke-width="0.7"/>
<line x1="36" y1="352.2" x2="141.5" y2="352.2" stroke="#f4f4f4" stroke-width="0.7"/>
<line x1="36" y1="363.5" x2="141.5" y2="363.5" stroke="#f4f4f4" stroke-width="0.7"/>
<line x1="36" y1="374.8" x2="141.5" y2="374.8" stroke="#d9d9d9" stroke-width="0.8"/>
<line x1="36" y1="376.2" x2="141.5" y2="376.2" stroke="#d9d9d9" stroke-width="0.8"/>
<line x1="36" y1="344.3" x2="141.5" y2="344.3" stroke="#c8c8c8" stroke-width="0.8"/>
<g filter="url(#hb)">
<rect x="36.10" y="376.7" width="1.1000000000000014" height="13.5" fill="#999"/>
<rect x="37.20" y="376.7" width="3.0999999999999943" height="13.5" fill="#444"/>
<rect x="41.90" y="376.7" width="2.700000000000003" height="13.5" fill="#333"/>
<rect x="46.70" y="376.7" width="2.5999999999999943" height="13.5" fill="#444"/>
<rect x="49.30" y="376.7" width="5.300000000000004" height="13.5" fill="#ccc"/>
<rect x="55.70" y="376.7" width="3.6999999999999957" height="13.5" fill="#777"/>
<rect x="59.40" y="376.7" width="2.6000000000000014" height="13.5" fill="#444"/>
<rect x="62.00" y="376.7" width="4.799999999999997" height="13.5" fill="#888"/>
<rect x="66.80" y="376.7" width="4.799999999999997" height="13.5" fill="#444"/>
<rect x="71.60" y="376.7" width="2.6000000000000085" height="13.5" fill="#ccc"/>
<rect x="77.40" y="376.7" width="5.299999999999997" height="13.5" fill="#555"/>
<rect x="82.70" y="376.7" width="2.0999999999999943" height="13.5" fill="#bbb"/>
<rect x="84.80" y="376.7" width="3.799999999999997" height="13.5" fill="#444"/>
<rect x="88.60" y="376.7" width="1.6000000000000085" height="13.5" fill="#ccc"/>
<rect x="92.30" y="376.7" width="2.200000000000003" height="13.5" fill="#444"/>
<rect x="94.50" y="376.7" width="3.700000000000003" height="13.5" fill="#888"/>
<rect x="98.20" y="376.7" width="2.5999999999999943" height="13.5" fill="#e0e0e0"/>
<rect x="100.80" y="376.7" width="3.700000000000003" height="13.5" fill="#555"/>
<rect x="104.50" y="376.7" width="2.700000000000003" height="13.5" fill="#333"/>
<rect x="107.20" y="376.7" width="3.0999999999999943" height="13.5" fill="#888"/>
<rect x="110.30" y="376.7" width="2.700000000000003" height="13.5" fill="#444"/>
<rect x="114.60" y="376.7" width="6.300000000000011" height="13.5" fill="#666"/>
<rect x="123.00" y="376.7" width="3.200000000000003" height="13.5" fill="#888"/>
<rect x="126.20" y="376.7" width="2.1000000000000085" height="13.5" fill="#444"/>
<rect x="130.40" y="376.7" width="2.6999999999999886" height="13.5" fill="#777"/>
<rect x="133.10" y="376.7" width="3.200000000000017" height="13.5" fill="#222"/>
</g>
<rect x="36.00" y="390.2" width="13.43" height="3.8000000000000114" fill="#cc1239"/>
<rect x="49.13" y="390.2" width="7.37" height="3.8000000000000114" fill="#c8385a"/>
<rect x="56.20" y="390.2" width="10.40" height="3.8000000000000114" fill="#d45a72"/>
<rect x="66.30" y="390.2" width="12.12" height="3.8000000000000114" fill="#e2a9cf"/>
<rect x="78.12" y="390.2" width="16.46" height="3.8000000000000114" fill="#ddd6ee"/>
<rect x="94.28" y="390.2" width="11.71" height="3.8000000000000114" fill="#c9bce2"/>
<rect x="105.69" y="390.2" width="8.38" height="3.8000000000000114" fill="#6a54ac"/>
<rect x="113.77" y="390.2" width="13.43" height="3.8000000000000114" fill="#52389f"/>
<rect x="126.90" y="390.2" width="10.40" height="3.8000000000000114" fill="#483499"/>
<polyline points="36.70,346.20 38.10,343.54 39.50,341.00 40.95,343.40 42.40,346.20 43.40,341.60 44.70,331.90 46.00,333.92 47.30,337.10 48.30,336.04 49.30,333.80 50.40,334.74 51.50,337.27 52.60,339.00 53.67,342.27 54.73,343.60 55.80,346.90 57.10,348.72 58.40,350.55 59.70,352.10 61.00,351.80 62.30,352.77 63.60,353.40 64.70,354.79 65.80,355.46 66.90,356.60 67.94,355.92 68.98,353.97 70.02,353.06 71.06,351.82 72.10,351.40 73.20,352.71 74.30,354.68 75.40,355.30 76.47,358.51 77.53,361.87 78.60,364.50 79.90,364.75 81.20,365.76 82.50,365.80 83.50,365.81 84.50,366.77 85.50,368.03 86.50,368.40 87.70,369.06 88.90,369.00 90.20,370.52 91.50,372.30 92.60,368.17 93.70,364.99 94.80,361.90 95.87,362.50 96.93,363.68 98.00,365.10 99.10,365.83 100.20,365.09 101.30,365.80 102.40,366.62 103.50,366.81 104.60,366.40 105.67,363.52 106.73,361.87 107.80,359.90 108.90,359.65 110.00,358.67 111.10,359.20 113.00,354.00 114.30,355.53 115.60,357.30 116.90,356.65 118.20,354.70 119.55,355.03 120.90,356.60 122.20,356.75 123.50,356.60 124.57,356.66 125.63,358.06 126.70,358.60 128.00,360.53 129.30,361.20 130.60,363.02 131.90,365.80 132.90,361.41 133.90,358.60 135.80,347.50 136.90,344.30" fill="none" stroke="#7eba36" stroke-width="1.35" stroke-linejoin="round"/>
<text x="89.5" y="324" font-size="8.5" text-anchor="middle" font-weight="normal" fill="#1e1e1e" >Jaatinen HSC down</text>
<text x="83.6" y="337.7" font-size="8.95" text-anchor="start" font-weight="normal" fill="#1e1e1e" >NES -1.59</text>
<text x="83.6" y="348.7" font-size="8.95" text-anchor="start" font-weight="normal" fill="#1e1e1e" >FDR q 0.052</text>
<text x="34" y="405" font-size="8.7" text-anchor="start" font-weight="normal" fill="#1e1e1e" >+Dox</text>
<text x="140.5" y="405" font-size="8.7" text-anchor="end" font-weight="normal" fill="#1e1e1e" >-Dox</text>
<text transform="translate(30.5,320.1) rotate(-90) scale(0.82,1)" x="0" y="0" font-size="9.7" style="stroke-width:0.45px" text-anchor="middle" fill="#1e1e1e">Enrichment score</text>
<rect x="187" y="251.6" width="99" height="73.4" fill="#fff" stroke="#d9d9d9" stroke-width="0.8"/>
<line x1="198.7" y1="251.6" x2="198.7" y2="303.5" stroke="#f4f4f4" stroke-width="0.7"/>
<line x1="210.4" y1="251.6" x2="210.4" y2="303.5" stroke="#f4f4f4" stroke-width="0.7"/>
<line x1="222.1" y1="251.6" x2="222.1" y2="303.5" stroke="#f4f4f4" stroke-width="0.7"/>
<line x1="233.8" y1="251.6" x2="233.8" y2="303.5" stroke="#f4f4f4" stroke-width="0.7"/>
<line x1="245.5" y1="251.6" x2="245.5" y2="303.5" stroke="#f4f4f4" stroke-width="0.7"/>
<line x1="257.2" y1="251.6" x2="257.2" y2="303.5" stroke="#f4f4f4" stroke-width="0.7"/>
<line x1="268.9" y1="251.6" x2="268.9" y2="303.5" stroke="#f4f4f4" stroke-width="0.7"/>
<line x1="280.6" y1="251.6" x2="280.6" y2="303.5" stroke="#f4f4f4" stroke-width="0.7"/>
<line x1="187" y1="264.6" x2="286" y2="264.6" stroke="#f4f4f4" stroke-width="0.7"/>
<line x1="187" y1="277.6" x2="286" y2="277.6" stroke="#f4f4f4" stroke-width="0.7"/>
<line x1="187" y1="290.5" x2="286" y2="290.5" stroke="#f4f4f4" stroke-width="0.7"/>
<line x1="187" y1="303.5" x2="286" y2="303.5" stroke="#d9d9d9" stroke-width="0.8"/>
<line x1="187" y1="303.8" x2="286" y2="303.8" stroke="#d9d9d9" stroke-width="0.8"/>
<line x1="187" y1="275.6" x2="286" y2="275.6" stroke="#c8c8c8" stroke-width="0.8"/>
<g filter="url(#hb)">
<rect x="186.90" y="304.3" width="2.4000000000000057" height="16.5" fill="#ccc"/>
<rect x="194.10" y="304.3" width="1.0" height="16.5" fill="#bbb"/>
<rect x="198.50" y="304.3" width="2.4000000000000057" height="16.5" fill="#ccc"/>
<rect x="202.30" y="304.3" width="1.8999999999999773" height="16.5" fill="#888"/>
<rect x="204.20" y="304.3" width="2.0" height="16.5" fill="#aaa"/>
<rect x="206.20" y="304.3" width="1.9000000000000057" height="16.5" fill="#c4c4c4"/>
<rect x="208.10" y="304.3" width="2.4000000000000057" height="16.5" fill="#d4d4d4"/>
<rect x="211.00" y="304.3" width="2.8000000000000114" height="16.5" fill="#d0d0d0"/>
<rect x="213.80" y="304.3" width="2.0" height="16.5" fill="#999"/>
<rect x="215.80" y="304.3" width="2.1999999999999886" height="16.5" fill="#666"/>
<rect x="218.00" y="304.3" width="5.5" height="16.5" fill="#404040"/>
<rect x="224.90" y="304.3" width="1.9000000000000057" height="16.5" fill="#111"/>
<rect x="226.80" y="304.3" width="2.3999999999999773" height="16.5" fill="#bbb"/>
<rect x="229.20" y="304.3" width="1.0" height="16.5" fill="#444"/>
<rect x="230.20" y="304.3" width="1.9000000000000057" height="16.5" fill="#222"/>
<rect x="232.10" y="304.3" width="4.099999999999994" height="16.5" fill="#777"/>
<rect x="236.20" y="304.3" width="3.1000000000000227" height="16.5" fill="#222"/>
<rect x="239.30" y="304.3" width="1.5999999999999943" height="16.5" fill="#888"/>
<rect x="240.90" y="304.3" width="1.5999999999999943" height="16.5" fill="#ddd"/>
<rect x="242.50" y="304.3" width="2.6999999999999886" height="16.5" fill="#111"/>
<rect x="245.20" y="304.3" width="2.6000000000000227" height="16.5" fill="#999"/>
<rect x="247.80" y="304.3" width="1.5999999999999943" height="16.5" fill="#333"/>
<rect x="249.40" y="304.3" width="7.900000000000006" height="16.5" fill="#777"/>
<rect x="257.30" y="304.3" width="3.1999999999999886" height="16.5" fill="#aaa"/>
<rect x="260.50" y="304.3" width="1.1000000000000227" height="16.5" fill="#444"/>
<rect x="263.70" y="304.3" width="1.0" height="16.5" fill="#555"/>
<rect x="264.70" y="304.3" width="2.1999999999999886" height="16.5" fill="#ccc"/>
<rect x="269.00" y="304.3" width="1" height="16.5" fill="#bbb"/>
<rect x="275.30" y="304.3" width="1.099999999999966" height="16.5" fill="#bbb"/>
<rect x="279.00" y="304.3" width="1.6000000000000227" height="16.5" fill="#999"/>
</g>
<rect x="187.00" y="320.8" width="12.61" height="4.199999999999989" fill="#cc1239"/>
<rect x="199.31" y="320.8" width="6.93" height="4.199999999999989" fill="#c8385a"/>
<rect x="205.94" y="320.8" width="9.77" height="4.199999999999989" fill="#d45a72"/>
<rect x="215.41" y="320.8" width="11.38" height="4.199999999999989" fill="#e2a9cf"/>
<rect x="226.49" y="320.8" width="15.45" height="4.199999999999989" fill="#ddd6ee"/>
<rect x="241.64" y="320.8" width="11.00" height="4.199999999999989" fill="#c9bce2"/>
<rect x="252.34" y="320.8" width="7.88" height="4.199999999999989" fill="#6a54ac"/>
<rect x="259.92" y="320.8" width="12.61" height="4.199999999999989" fill="#52389f"/>
<rect x="272.23" y="320.8" width="9.77" height="4.199999999999989" fill="#483499"/>
<polyline points="187.20,275.50 188.72,276.95 190.24,278.50 191.76,280.24 193.28,281.40 194.80,282.90 196.50,284.81 198.20,286.76 199.90,288.38 201.60,290.51 203.30,292.40 204.85,292.84 206.40,293.10 208.00,294.26 209.60,295.00 211.30,296.19 213.00,297.81 214.70,299.14 216.40,300.90 219.10,298.80 221.00,294.00 223.40,289.30 225.50,291.40 227.60,286.10 229.20,285.77 230.80,285.00 232.90,280.80 234.50,280.39 236.10,279.70 237.65,275.18 239.20,271.30 240.80,267.94 242.40,263.90 244.00,261.58 245.60,258.60 247.70,258.71 249.80,258.60 251.40,258.13 253.00,257.50 255.10,255.66 257.20,254.30 259.30,254.51 261.40,255.40 262.90,256.48 264.40,257.21 265.90,258.36 267.40,259.46 268.90,260.70 270.47,262.22 272.05,264.37 273.62,266.21 275.20,268.10 276.77,270.19 278.35,271.81 279.93,273.75 281.50,275.50" fill="none" stroke="#7eba36" stroke-width="1.35" stroke-linejoin="round"/>
<text x="236.8" y="235.8" font-size="8.5" text-anchor="middle" font-weight="normal" fill="#1e1e1e" >Hallmark heme</text>
<text x="236.8" y="245.8" font-size="8.5" text-anchor="middle" font-weight="normal" fill="#1e1e1e" >metabolism</text>
<text x="278.7" y="262" font-size="8.95" text-anchor="end" font-weight="normal" fill="#1e1e1e" >NES -3.46</text>
<text x="278.7" y="273.2" font-size="8.95" text-anchor="end" font-weight="normal" fill="#1e1e1e" >FDR q 0.0</text>
<text x="187" y="335" font-size="8.7" text-anchor="start" font-weight="normal" fill="#1e1e1e" >+Dox</text>
<text x="286.5" y="335" font-size="8.7" text-anchor="end" font-weight="normal" fill="#1e1e1e" >-Dox</text>
<text transform="translate(180.3,288) rotate(-90) scale(0.82,1)" x="0" y="0" font-size="9.1" style="stroke-width:0.4px" text-anchor="middle" fill="#1e1e1e">Enrichment score</text>
<line x1="351.2" y1="230.5" x2="351.2" y2="366.2" stroke="#333" stroke-width="1.4"/>
<line x1="350.5" y1="365.5" x2="504" y2="365.5" stroke="#333" stroke-width="1.4"/>
<line x1="347.7" y1="365.50" x2="351.2" y2="365.50" stroke="#333" stroke-width="1"/>
<text x="344.2" y="368.3" font-size="8.9" text-anchor="end" font-weight="normal" fill="#1e1e1e" >0</text>
<line x1="347.7" y1="349.17" x2="351.2" y2="349.17" stroke="#333" stroke-width="1"/>
<text x="344.2" y="351.97" font-size="8.9" text-anchor="end" font-weight="normal" fill="#1e1e1e" >10000</text>
<line x1="347.7" y1="332.84" x2="351.2" y2="332.84" stroke="#333" stroke-width="1"/>
<text x="344.2" y="335.64000000000004" font-size="8.9" text-anchor="end" font-weight="normal" fill="#1e1e1e" >20000</text>
<line x1="347.7" y1="316.51" x2="351.2" y2="316.51" stroke="#333" stroke-width="1"/>
<text x="344.2" y="319.31" font-size="8.9" text-anchor="end" font-weight="normal" fill="#1e1e1e" >30000</text>
<line x1="347.7" y1="300.18" x2="351.2" y2="300.18" stroke="#333" stroke-width="1"/>
<text x="344.2" y="302.98" font-size="8.9" text-anchor="end" font-weight="normal" fill="#1e1e1e" >40000</text>
<line x1="347.7" y1="283.85" x2="351.2" y2="283.85" stroke="#333" stroke-width="1"/>
<text x="344.2" y="286.65000000000003" font-size="8.9" text-anchor="end" font-weight="normal" fill="#1e1e1e" >50000</text>
<line x1="347.7" y1="267.52" x2="351.2" y2="267.52" stroke="#333" stroke-width="1"/>
<text x="344.2" y="270.32" font-size="8.9" text-anchor="end" font-weight="normal" fill="#1e1e1e" >60000</text>
<line x1="347.7" y1="251.19" x2="351.2" y2="251.19" stroke="#333" stroke-width="1"/>
<text x="344.2" y="253.99" font-size="8.9" text-anchor="end" font-weight="normal" fill="#1e1e1e" >70000</text>
<line x1="347.7" y1="234.86" x2="351.2" y2="234.86" stroke="#333" stroke-width="1"/>
<text x="344.2" y="237.66000000000003" font-size="8.9" text-anchor="end" font-weight="normal" fill="#1e1e1e" >80000</text>
<line x1="351.2" y1="365.5" x2="351.2" y2="368.0" stroke="#333" stroke-width="1"/>
<line x1="376.2" y1="365.5" x2="376.2" y2="368.0" stroke="#333" stroke-width="1"/>
<line x1="401.2" y1="365.5" x2="401.2" y2="368.0" stroke="#333" stroke-width="1"/>
<line x1="426.2" y1="365.5" x2="426.2" y2="368.0" stroke="#333" stroke-width="1"/>
<line x1="451.2" y1="365.5" x2="451.2" y2="368.0" stroke="#333" stroke-width="1"/>
<line x1="476.2" y1="365.5" x2="476.2" y2="368.0" stroke="#333" stroke-width="1"/>
<line x1="501.2" y1="365.5" x2="501.2" y2="368.0" stroke="#333" stroke-width="1"/>
<rect x="356.20" y="360.11" width="7.5" height="5.39" fill="#a9042c"/>
<line x1="359.95" y1="360.11" x2="359.95" y2="356.19" stroke="#222" stroke-width="0.9"/>
<line x1="358.45" y1="356.19" x2="361.45" y2="356.19" stroke="#222" stroke-width="0.9"/>
<rect x="363.70" y="352.11" width="7.5" height="13.39" fill="#2c4b84"/>
<line x1="367.45" y1="352.11" x2="367.45" y2="350.80" stroke="#222" stroke-width="0.9"/>
<line x1="365.95" y1="350.80" x2="368.95" y2="350.80" stroke="#222" stroke-width="0.9"/>
<line x1="353.20" y1="342.00" x2="370.20" y2="342.00" stroke="#222" stroke-width="0.9"/>
<text x="361.7" y="339.4" font-size="8.6" text-anchor="middle" font-weight="normal" fill="#1e1e1e" >0.03</text>
<text transform="translate(366.20,372.5) rotate(-45)" x="0" y="0" font-size="8.7" text-anchor="end" fill="#1e1e1e">EPB41</text>
<rect x="381.20" y="329.57" width="7.5" height="35.93" fill="#a9042c"/>
<line x1="384.95" y1="329.57" x2="384.95" y2="318.14" stroke="#222" stroke-width="0.9"/>
<line x1="383.45" y1="318.14" x2="386.45" y2="318.14" stroke="#222" stroke-width="0.9"/>
<rect x="388.70" y="293.65" width="7.5" height="71.85" fill="#2c4b84"/>
<line x1="392.45" y1="293.65" x2="392.45" y2="271.60" stroke="#222" stroke-width="0.9"/>
<line x1="390.95" y1="271.60" x2="393.95" y2="271.60" stroke="#222" stroke-width="0.9"/>
<line x1="378.20" y1="263.50" x2="395.20" y2="263.50" stroke="#222" stroke-width="0.9"/>
<text x="386.7" y="260.9" font-size="8.6" text-anchor="middle" font-weight="normal" fill="#1e1e1e" >0.06</text>
<text transform="translate(391.20,372.5) rotate(-45)" x="0" y="0" font-size="8.7" text-anchor="end" fill="#1e1e1e">ANK1</text>
<rect x="406.20" y="318.96" width="7.5" height="46.54" fill="#a9042c"/>
<line x1="409.95" y1="318.96" x2="409.95" y2="317.65" stroke="#222" stroke-width="0.9"/>
<line x1="408.45" y1="317.65" x2="411.45" y2="317.65" stroke="#222" stroke-width="0.9"/>
<rect x="413.70" y="276.50" width="7.5" height="89.00" fill="#2c4b84"/>
<line x1="417.45" y1="276.50" x2="417.45" y2="254.46" stroke="#222" stroke-width="0.9"/>
<line x1="415.95" y1="254.46" x2="418.95" y2="254.46" stroke="#222" stroke-width="0.9"/>
<line x1="403.20" y1="247.50" x2="420.20" y2="247.50" stroke="#222" stroke-width="0.9"/>
<text x="411.7" y="244.9" font-size="8.6" text-anchor="middle" font-weight="normal" fill="#1e1e1e" >0.03</text>
<text transform="translate(416.20,372.5) rotate(-45)" x="0" y="0" font-size="8.7" text-anchor="end" fill="#1e1e1e">SLC4A1</text>
<rect x="431.20" y="349.99" width="7.5" height="15.51" fill="#a9042c"/>
<line x1="434.95" y1="349.99" x2="434.95" y2="346.72" stroke="#222" stroke-width="0.9"/>
<line x1="433.45" y1="346.72" x2="436.45" y2="346.72" stroke="#222" stroke-width="0.9"/>
<rect x="438.70" y="336.92" width="7.5" height="28.58" fill="#2c4b84"/>
<line x1="442.45" y1="336.92" x2="442.45" y2="329.08" stroke="#222" stroke-width="0.9"/>
<line x1="440.95" y1="329.08" x2="443.95" y2="329.08" stroke="#222" stroke-width="0.9"/>
<line x1="428.20" y1="318.00" x2="445.20" y2="318.00" stroke="#222" stroke-width="0.9"/>
<text x="436.7" y="315.4" font-size="8.6" text-anchor="middle" font-weight="normal" fill="#1e1e1e" >0.06</text>
<text transform="translate(441.20,372.5) rotate(-45)" x="0" y="0" font-size="8.7" text-anchor="end" fill="#1e1e1e">EPB42</text>
<rect x="456.20" y="333.66" width="7.5" height="31.84" fill="#a9042c"/>
<line x1="459.95" y1="333.66" x2="459.95" y2="323.86" stroke="#222" stroke-width="0.9"/>
<line x1="458.45" y1="323.86" x2="461.45" y2="323.86" stroke="#222" stroke-width="0.9"/>
<rect x="463.70" y="305.90" width="7.5" height="59.60" fill="#2c4b84"/>
<line x1="467.45" y1="305.90" x2="467.45" y2="294.46" stroke="#222" stroke-width="0.9"/>
<line x1="465.95" y1="294.46" x2="468.95" y2="294.46" stroke="#222" stroke-width="0.9"/>
<line x1="453.20" y1="287.60" x2="470.20" y2="287.60" stroke="#222" stroke-width="0.9"/>
<text x="461.7" y="285.0" font-size="8.6" text-anchor="middle" font-weight="normal" fill="#1e1e1e" >0.04</text>
<text transform="translate(466.20,372.5) rotate(-45)" x="0" y="0" font-size="8.7" text-anchor="end" fill="#1e1e1e">OSBP2</text>
<rect x="481.20" y="351.95" width="7.5" height="13.55" fill="#a9042c"/>
<line x1="484.95" y1="351.95" x2="484.95" y2="349.99" stroke="#222" stroke-width="0.9"/>
<line x1="483.45" y1="349.99" x2="486.45" y2="349.99" stroke="#222" stroke-width="0.9"/>
<rect x="488.70" y="346.23" width="7.5" height="19.27" fill="#2c4b84"/>
<line x1="492.45" y1="346.23" x2="492.45" y2="341.82" stroke="#222" stroke-width="0.9"/>
<line x1="490.95" y1="341.82" x2="493.95" y2="341.82" stroke="#222" stroke-width="0.9"/>
<line x1="478.20" y1="335.80" x2="495.20" y2="335.80" stroke="#222" stroke-width="0.9"/>
<text x="486.7" y="333.2" font-size="8.6" text-anchor="middle" font-weight="normal" fill="#1e1e1e" >0.08</text>
<text transform="translate(491.20,372.5) rotate(-45)" x="0" y="0" font-size="8.7" text-anchor="end" fill="#1e1e1e">KLF3</text>
<rect x="476" y="233.8" width="5" height="4.8" fill="#a9042c"/>
<rect x="476" y="247" width="5" height="4.6" fill="#2c4b84"/>
<text x="484" y="238.8" font-size="8.6" text-anchor="start" font-weight="normal" fill="#1e1e1e" >+Dox</text>
<text x="484" y="251.7" font-size="8.6" text-anchor="start" font-weight="normal" fill="#1e1e1e" >-Dox</text>
<text transform="translate(313.4,297.7) rotate(-90) scale(0.8,1)" x="0" y="0" font-size="9.6" style="stroke-width:0.4px" text-anchor="middle" fill="#1e1e1e">Counts</text>
</svg></div></body></html>
